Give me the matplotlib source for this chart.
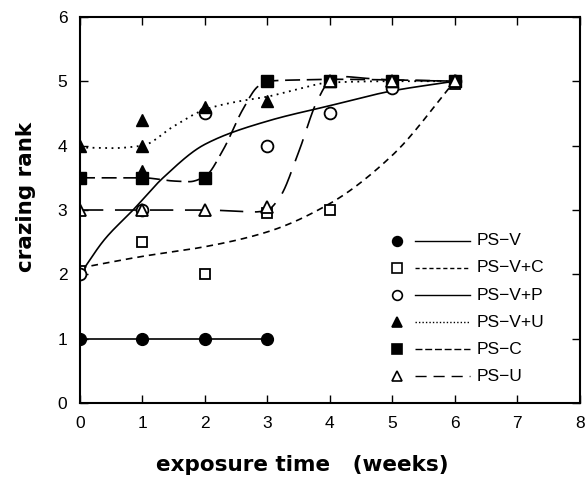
import numpy as np
import matplotlib
matplotlib.use("Agg")
import matplotlib.pyplot as plt

plt.rcParams['font.family'] = ['Liberation Sans', 'DejaVu Sans']

# measured points (weeks, crazing rank)
psv_x = [0, 1, 2, 3]
psv_y = [1, 1, 1, 1]

psvc_x = [0, 1, 2, 3, 4, 6]
psvc_y = [2.05, 2.5, 2.0, 2.95, 3.0, 4.95]

psvp_x = [0, 1, 2, 3, 4, 5, 6]
psvp_y = [2.0, 3.0, 4.5, 4.0, 4.5, 4.9, 5.0]

psvu_x = [0, 1, 1, 1, 2, 3, 4, 5, 6]
psvu_y = [4.0, 4.4, 4.0, 3.6, 4.6, 4.7, 5.0, 5.0, 5.0]

psc_x = [0, 1, 2, 3, 4, 5, 6]
psc_y = [3.5, 3.5, 3.5, 5.0, 5.0, 5.0, 5.0]

psu_x = [0, 1, 2, 3, 4, 5, 6]
psu_y = [3.0, 3.0, 3.0, 3.05, 5.0, 5.0, 5.0]

# knots of the hand-fitted trend curves
cv_c_x = [0, 1, 2, 3, 4, 5, 6]
cv_c_y = [2.1, 2.28, 2.43, 2.66, 3.1, 3.85, 5.0]

cv_p_x = [0, 0.4, 0.85, 1.33, 2, 3, 4, 5, 6]
cv_p_y = [2.0, 2.55, 3.0, 3.5, 4.02, 4.38, 4.62, 4.85, 5.0]

cv_u_x = [0, 0.5, 1, 1.5, 2, 2.5, 3, 3.5, 4, 5, 6]
cv_u_y = [3.97, 3.96, 4.0, 4.3, 4.56, 4.68, 4.76, 4.88, 4.98, 5.0, 5.0]

cv_sc_x = [0, 1, 1.5, 1.75, 2, 2.3, 2.6, 2.85, 3, 3.5, 4, 5, 6]
cv_sc_y = [3.5, 3.5, 3.45, 3.44, 3.52, 3.95, 4.55, 4.92, 5.0, 5.02, 5.03, 5.02, 5.0]

cv_su_x = [0, 1, 2, 2.8, 3, 3.2, 3.5, 3.8, 4, 4.25, 4.5, 5, 6]
cv_su_y = [3.0, 3.0, 3.0, 2.97, 3.0, 3.2, 3.9, 4.7, 5.0, 5.07, 5.05, 5.02, 5.0]


def smooth(xs, ys, n=400):
    # piecewise cubic hermite (pchip style) through the knots
    x = np.asarray(xs, float)
    y = np.asarray(ys, float)
    h = np.diff(x)
    d = np.diff(y) / h
    m = np.zeros_like(y)
    for i in range(1, len(x) - 1):
        if d[i - 1] * d[i] > 0:
            w1 = 2 * h[i] + h[i - 1]
            w2 = h[i] + 2 * h[i - 1]
            m[i] = (w1 + w2) / (w1 / d[i - 1] + w2 / d[i])
    m[0] = d[0]
    m[-1] = d[-1]
    xx = np.linspace(x[0], x[-1], n)
    idx = np.clip(np.searchsorted(x, xx) - 1, 0, len(h) - 1)
    t = (xx - x[idx]) / h[idx]
    h00 = 2 * t ** 3 - 3 * t ** 2 + 1
    h10 = t ** 3 - 2 * t ** 2 + t
    h01 = -2 * t ** 3 + 3 * t ** 2
    h11 = t ** 3 - t ** 2
    yy = h00 * y[idx] + h10 * h[idx] * m[idx] + h01 * y[idx + 1] + h11 * h[idx] * m[idx + 1]
    return xx, yy


fig = plt.figure(figsize=(5.88, 4.8), dpi=100)
ax = fig.add_axes([0.136, 0.16, 0.850, 0.805])

k = 'black'
ax.plot(psv_x, psv_y, '-', color=k, lw=1.2)
ax.plot(*smooth(cv_c_x, cv_c_y), color=k, lw=1.2, dashes=(4, 3))
ax.plot(*smooth(cv_p_x, cv_p_y), color=k, lw=1.2)
ax.plot(*smooth(cv_u_x, cv_u_y), color=k, lw=1.3, dashes=(1, 2.5))
ax.plot(*smooth(cv_sc_x, cv_sc_y), color=k, lw=1.2, dashes=(9, 4))
ax.plot(*smooth(cv_su_x, cv_su_y), color=k, lw=1.2, dashes=(14, 7))

ms = 8.5
ax.plot(psv_x, psv_y, 'o', ms=ms, mfc=k, mec=k, ls='none')
ax.plot(psvc_x, psvc_y, 's', ms=ms - 1, mfc='white', mec=k, mew=1.3, ls='none')
ax.plot(psvp_x, psvp_y, 'o', ms=ms, mfc='white', mec=k, mew=1.3, ls='none')
ax.plot(psvu_x, psvu_y, '^', ms=ms, mfc=k, mec=k, ls='none')
ax.plot(psc_x, psc_y, 's', ms=ms, mfc=k, mec=k, ls='none')
ax.plot(psu_x, psu_y, '^', ms=ms, mfc='white', mec=k, mew=1.3, ls='none')

# legend, drawn by hand: marker - line - label
labels = ['PS-V', 'PS-V+C', 'PS-V+P', 'PS-V+U', 'PS-C', 'PS-U']
mk = [('o', k), ('s', 'white'), ('o', 'white'), ('^', k), ('s', k), ('^', 'white')]
ls = [dict(), dict(dashes=(3, 2)), dict(), dict(dashes=(1, 1.5)), dict(dashes=(5, 2)),
      dict(dashes=(8, 5))]
tr = ax.transAxes
for i, lab in enumerate(labels):
    y = 0.42 - i * 0.07
    ax.plot([0.634], [y], mk[i][0], ms=7, mfc=mk[i][1], mec=k, mew=1.2, transform=tr)
    ax.plot([0.67, 0.78], [y, y], color=k, lw=1.0, transform=tr, **ls[i])
    ax.text(0.793, y, lab.replace('-', '\u2212'), transform=tr, va='center', ha='left',
            fontsize=12.5)

ax.set_xlim(0, 8)
ax.set_ylim(0, 6)
ax.set_xticks(range(0, 9))
ax.set_yticks(range(0, 7))
ax.tick_params(direction='in', top=True, right=True, length=6, width=1,
               labelsize=12.5, pad=9)
for s in ax.spines.values():
    s.set_linewidth(1.5)

ax.set_xlabel('exposure time   (weeks)', fontsize=15.5, fontweight='bold',
              family='DejaVu Sans')
ax.set_ylabel('crazing rank', fontsize=15.5, fontweight='bold',
              family='DejaVu Sans')
ax.xaxis.set_label_coords(0.444, -0.135)
ax.yaxis.set_label_coords(-0.088, 0.534)

fig.savefig('out.png', dpi=100)
